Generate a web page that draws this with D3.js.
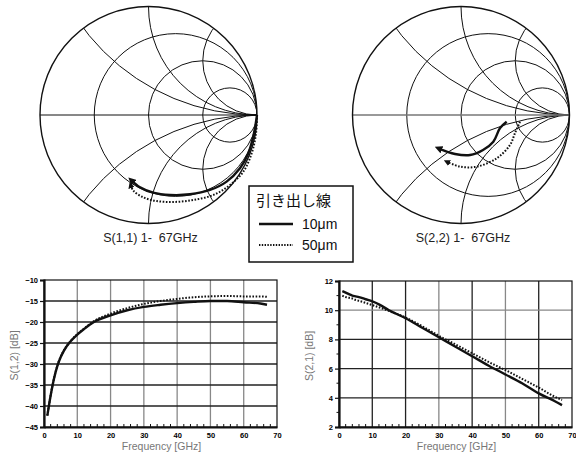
<!DOCTYPE html>
<html>
<head>
<meta charset="utf-8">
<script src="https://cdn.jsdelivr.net/npm/d3@7"></script>
<style>
  body { margin: 0; background: #fff; }
  svg { display: block; font-family: "Liberation Sans", Arial, sans-serif; }
</style>
</head>
<body>
<svg id="chart" width="576" height="459"></svg>
<script>
// ---- data ----
// Smith chart traces, reflection coefficient (re, im), 1 -> 67 GHz
const s11Re10 = [1.0, 0.972, 0.920, 0.843, 0.720, 0.567, 0.382, 0.198, 0.044, -0.078, -0.160]
const s11Im10 = [0.0, -0.169, -0.353, -0.491, -0.614, -0.691, -0.731, -0.737, -0.716, -0.667, -0.600]
const s11Re50 = [1.0, 0.991, 0.951, 0.874, 0.751, 0.597, 0.413, 0.229, 0.075, -0.048, -0.140, -0.165]
const s11Im50 = [0.0, -0.169, -0.353, -0.522, -0.645, -0.737, -0.783, -0.802, -0.793, -0.759, -0.697, -0.645]

const s22Re10 = [0.421, 0.360, 0.298, 0.203, 0.083, -0.055, -0.209]
const s22Im10 = [-0.062, -0.120, -0.246, -0.323, -0.369, -0.359, -0.307]
const s22Re50 = [0.544, 0.498, 0.452, 0.329, 0.145, -0.009, -0.132]
const s22Im50 = [-0.062, -0.166, -0.276, -0.399, -0.476, -0.476, -0.430]

// Smith chart grid values
const rCircles = [1/3, 1, 3]
const xArcs = [0.5, 1, 2, -0.5, -1, -2]

// rectangular plots
const freq = [1, 2, 3, 4, 5, 6, 8, 10, 12, 15, 20, 25, 30, 35, 40, 45, 50, 55, 60, 65, 67]
const s12_10 = [-42.3, -37.5, -33.5, -30.5, -28.4, -26.8, -24.6, -23.0, -21.7, -20.0, -18.4, -17.2, -16.4, -15.9, -15.5, -15.2, -15.0, -15.0, -15.3, -15.6, -15.9]
const s12_50 = [-42.3, -37.4, -33.4, -30.4, -28.3, -26.7, -24.5, -22.9, -21.6, -19.8, -18.0, -16.7, -15.7, -15.0, -14.5, -14.1, -13.9, -13.8, -13.9, -13.9, -14.0]
const s21_10 = [11.3, 11.2, 11.1, 11.0, 10.95, 10.9, 10.75, 10.6, 10.4, 10.0, 9.45, 8.8, 8.15, 7.5, 6.85, 6.2, 5.6, 5.0, 4.3, 3.75, 3.5]
const s21_50 = [11.0, 10.9, 10.85, 10.8, 10.7, 10.65, 10.5, 10.35, 10.2, 9.95, 9.5, 8.9, 8.25, 7.65, 7.05, 6.45, 5.9, 5.3, 4.7, 4.05, 3.85]

const xTicks = [0, 10, 20, 30, 40, 50, 60, 70]
const s12Ticks = [-45, -40, -35, -30, -25, -20, -15, -10]
const s21Ticks = [2, 4, 6, 8, 10, 12]

const legendTitle = "引き出し線"
const legendLabels = ["10μm", "50μm"]

const svg = d3.select("#chart")
const defs = svg.append("defs")

defs.append("marker")
  .attr("id", "arrow")
  .attr("viewBox", "0 0 10 10")
  .attr("refX", 5).attr("refY", 5)
  .attr("markerWidth", 3.2).attr("markerHeight", 3.2)
  .attr("orient", "auto")
  .append("path")
  .attr("d", "M0,0 L10,5 L0,10 z")
  .attr("fill", "#111")

function drawSmith(id, cx, cy, R, traces, caption, axisColor) {
  let g = svg.append("g")
  let sx = d3.scaleLinear().domain([-1, 1]).range([cx - R, cx + R])
  let sy = d3.scaleLinear().domain([-1, 1]).range([cy + R, cy - R])
  let k = R  // radius scale

  defs.append("clipPath").attr("id", "clip" + id)
    .append("circle").attr("cx", sx(0)).attr("cy", sy(0)).attr("r", k)

  let grid = g.append("g").attr("clip-path", "url(#clip" + id + ")")
    .attr("fill", "none").attr("stroke", "#111").attr("stroke-width", 1)

  grid.selectAll(".rc").data(rCircles).enter().append("circle")
    .attr("cx", r => sx(r / (r + 1)))
    .attr("cy", sy(0))
    .attr("r", r => k / (r + 1))

  grid.selectAll(".xa").data(xArcs).enter().append("circle")
    .attr("cx", sx(1))
    .attr("cy", x => sy(1 / x))
    .attr("r", x => k / Math.abs(x))

  g.append("line")
    .attr("x1", sx(-1)).attr("x2", sx(1))
    .attr("y1", sy(0)).attr("y2", sy(0))
    .attr("stroke", axisColor).attr("stroke-width", axisColor == "#111" ? 1 : 1.6)

  g.append("circle")
    .attr("cx", sx(0)).attr("cy", sy(0)).attr("r", k)
    .attr("fill", "none").attr("stroke", "#111").attr("stroke-width", 1.4)

  let line = d3.line().x(d => sx(d[0])).y(d => sy(d[1])).curve(d3.curveCatmullRom)

  traces.forEach(t => {
    let pts = d3.zip(t.re, t.im)
    g.append("path")
      .attr("d", line(pts))
      .attr("fill", "none")
      .attr("stroke", "#111")
      .attr("stroke-width", t.dotted ? 2 : 2.4)
      .attr("stroke-dasharray", t.dotted ? "1.6,1.6" : null)
      .attr("marker-end", "url(#arrow)")
  })

  g.append("text")
    .attr("x", cx + 2).attr("y", cy + R + 18)
    .attr("text-anchor", "middle")
    .attr("font-size", 12.5)
    .attr("fill", "#222")
    .attr("xml:space", "preserve")
    .text(caption)
}

drawSmith("a", 148.5, 115, 108.5,
  [{re: s11Re10, im: s11Im10, dotted: false}, {re: s11Re50, im: s11Im50, dotted: true}],
  "S(1,1) 1-  67GHz", "#111")
drawSmith("b", 461, 115, 108.5,
  [{re: s22Re10, im: s22Im10, dotted: false}, {re: s22Re50, im: s22Im50, dotted: true}],
  "S(2,2) 1-  67GHz", "#777")

// ---- legend ----
let lg = svg.append("g")
lg.append("rect")
  .attr("x", 249).attr("y", 186).attr("width", 104).attr("height", 76)
  .attr("fill", "#fff").attr("stroke", "#111").attr("stroke-width", 1.5)
lg.append("text")
  .attr("x", 256).attr("y", 206)
  .attr("font-family", "'Noto Sans CJK JP', sans-serif")
  .attr("font-size", 15).attr("fill", "#111")
  .text(legendTitle)
legendLabels.forEach((lab, i) => {
  let y = 224 + i * 21
  lg.append("line")
    .attr("x1", 259).attr("x2", 293).attr("y1", y).attr("y2", y)
    .attr("stroke", "#111")
    .attr("stroke-width", i == 0 ? 2.6 : 1.8)
    .attr("stroke-dasharray", i == 0 ? null : "1.4,1.4")
  lg.append("text")
    .attr("x", 302).attr("y", y + 5)
    .attr("font-size", 14).attr("fill", "#111")
    .text(lab)
})

// ---- rectangular plots ----
function drawPlot(x0, x1, y0, y1, yDomain, yTicks, yMinor, s10, s50, yLabel, gridColor) {
  let g = svg.append("g")
  let x = d3.scaleLinear().domain([0, 70]).range([x0, x1])
  let y = d3.scaleLinear().domain(yDomain).range([y1, y0])

  // grid
  g.selectAll(".vg").data(xTicks.slice(1, -1)).enter().append("line")
    .attr("x1", d => x(d)).attr("x2", d => x(d))
    .attr("y1", y0).attr("y2", y1)
    .attr("stroke", d => gridColor.v(d)).attr("stroke-width", 1.3)
  g.selectAll(".hg").data(yTicks.slice(1, -1)).enter().append("line")
    .attr("x1", x0).attr("x2", x1)
    .attr("y1", d => y(d)).attr("y2", d => y(d))
    .attr("stroke", d => gridColor.h(d)).attr("stroke-width", 1.3)

  // frame
  g.append("rect")
    .attr("x", x0).attr("y", y0).attr("width", x1 - x0).attr("height", y1 - y0)
    .attr("fill", "none").attr("stroke", "#111").attr("stroke-width", 1.2)

  // axes
  let ax = g.append("g").attr("transform", `translate(0,${y1})`)
    .call(d3.axisBottom(x).tickValues(xTicks).tickSize(0).tickPadding(6).tickFormat(d3.format("d")))
  let ay = g.append("g").attr("transform", `translate(${x0},0)`)
    .call(d3.axisLeft(y).tickValues(yTicks).tickSize(4).tickPadding(2).tickFormat(d3.format("d")))
  ;[ax, ay].forEach(a => {
    a.select(".domain").attr("stroke", "#111").attr("stroke-width", 2.2)
    a.selectAll(".tick line").attr("stroke", "#111").attr("stroke-width", 1.2)
    a.selectAll("text").attr("font-size", 7.5).attr("font-weight", "bold").attr("fill", "#000")
      .attr("font-family", "'Liberation Sans', Arial, sans-serif")
  })

  // minor ticks
  g.selectAll(".mx").data(d3.range(2, 70, 2).filter(v => v % 10 != 0)).enter().append("line")
    .attr("x1", d => x(d)).attr("x2", d => x(d))
    .attr("y1", y1).attr("y2", y1 - 3)
    .attr("stroke", "#111").attr("stroke-width", 1)
  g.selectAll(".my").data(yMinor).enter().append("line")
    .attr("x1", x0).attr("x2", x0 - 2.5)
    .attr("y1", d => y(d)).attr("y2", d => y(d))
    .attr("stroke", "#111").attr("stroke-width", 1)

  let line = d3.line().x(d => x(d[0])).y(d => y(d[1])).curve(d3.curveMonotoneX)
  g.append("path").attr("d", line(d3.zip(freq, s10)))
    .attr("fill", "none").attr("stroke", "#111").attr("stroke-width", 2.4)
  g.append("path").attr("d", line(d3.zip(freq, s50)))
    .attr("fill", "none").attr("stroke", "#111").attr("stroke-width", 2)
    .attr("stroke-dasharray", "1.6,1.6")

  g.append("text")
    .attr("x", (x0 + x1) / 2 + 1).attr("y", y1 + 23)
    .attr("text-anchor", "middle").attr("font-size", 10.5).attr("fill", "#777")
    .text("Frequency [GHz]")
  g.append("text")
    .attr("transform", `translate(${x0 - 26},${(y0 + y1) / 2 + 2}) rotate(-90)`)
    .attr("text-anchor", "middle").attr("font-size", 10.5).attr("fill", "#777")
    .text(yLabel)
}

drawPlot(44, 277, 280, 427, [-45, -10], s12Ticks, [], s12_10, s12_50, "S(1,2) [dB]",
  {v: d => "#888", h: d => "#222"})
drawPlot(339, 572, 281, 427, [2, 12], s21Ticks, [3, 5, 7, 9, 11], s21_10, s21_50, "S(2,1) [dB]",
  {v: d => (d == 30 || d == 50) ? "#888" : "#222", h: d => d == 10 ? "#888" : "#222"})
</script>
</body>
</html>
